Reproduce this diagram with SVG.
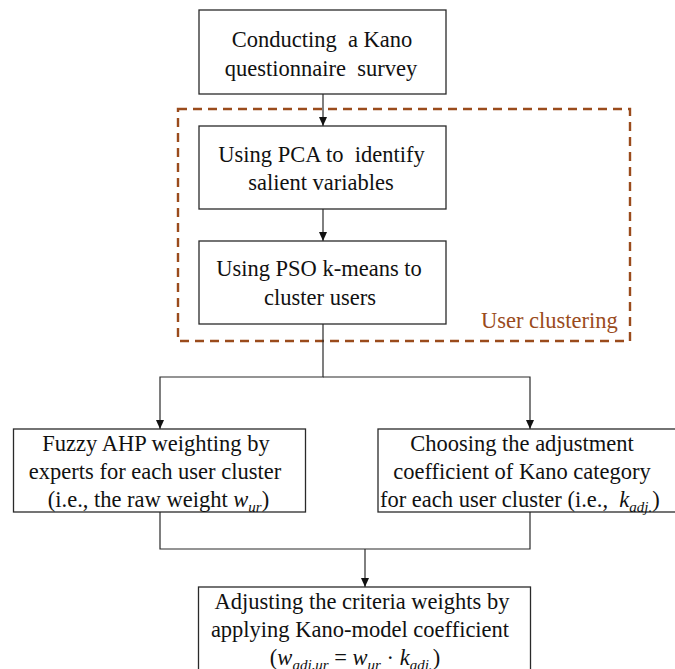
<svg xmlns="http://www.w3.org/2000/svg" width="675" height="669" viewBox="0 0 675 669">
<style>
.box{fill:#fff;stroke:#2a2a2a;stroke-width:1.3}
.t{font-family:"Liberation Serif","Times New Roman",serif;font-size:22.5px;fill:#111}
.c{text-anchor:middle}
.it{font-style:italic}
.sub{font-size:15px;font-style:italic}
.conn{fill:none;stroke:#2a2a2a;stroke-width:1.2}
.grp{fill:none;stroke:#9a4b1c;stroke-width:2.4;stroke-dasharray:9 6}
.lbl{font-family:"Liberation Serif","Times New Roman",serif;font-size:22.5px;fill:#9a4b1c}
</style>
<defs>
<marker id="ah" markerUnits="userSpaceOnUse" markerWidth="10" markerHeight="10" refX="9" refY="5" orient="auto">
<path d="M0,1 L9,5 L0,9 Z" fill="#111"/>
</marker>
</defs>
<rect width="675" height="669" fill="#fff"/>
<g id="user-clustering">
<rect class="grp" x="178" y="109" width="452" height="232"/>
<text class="lbl" x="481" y="328">User clustering</text>
</g>
<g id="connectors">
<line class="conn" x1="323" y1="94" x2="323" y2="126" marker-end="url(#ah)"/>
<line class="conn" x1="323" y1="209" x2="323" y2="241" marker-end="url(#ah)"/>
<polyline class="conn" points="323,324 323,377 160,377 160,429" marker-end="url(#ah)"/>
<polyline class="conn" points="323,377 530,377 530,429" marker-end="url(#ah)"/>
<polyline class="conn" points="160,512 160,549 530,549 530,512"/>
<line class="conn" x1="365" y1="549" x2="365" y2="587" marker-end="url(#ah)"/>
</g>
<g id="survey">
<rect class="box" x="199" y="10" width="247" height="84"/>
<text class="t c" x="322" y="47" xml:space="preserve">Conducting  a Kano</text>
<text class="t c" x="321" y="75.5" xml:space="preserve">questionnaire  survey</text>
</g>
<g id="pca">
<rect class="box" x="199" y="126" width="247" height="83"/>
<text class="t c" x="321.5" y="161.5" xml:space="preserve">Using PCA to  identify</text>
<text class="t c" x="321" y="190">salient variables</text>
</g>
<g id="pso">
<rect class="box" x="199" y="241" width="247" height="83"/>
<text class="t c" x="319" y="275.5">Using PSO k-means to</text>
<text class="t c" x="320" y="305">cluster users</text>
</g>
<g id="fuzzy-ahp">
<rect class="box" x="13.5" y="429" width="292" height="83"/>
<text class="t c" x="156" y="451">Fuzzy AHP weighting by</text>
<text class="t c" x="155" y="479">experts for each user cluster</text>
<text class="t c" x="158.5" y="507">(i.e., the raw weight <tspan class="it">w</tspan><tspan class="sub" dy="5">ur</tspan><tspan dy="-5">)</tspan></text>
</g>
<g id="kano-coef">
<rect class="box" x="378" y="429" width="320" height="83"/>
<text class="t c" x="522" y="451">Choosing the adjustment</text>
<text class="t c" x="522" y="479">coefficient of Kano category</text>
<text class="t" x="380" y="507" xml:space="preserve">for each user cluster (i.e.,  <tspan class="it">k</tspan><tspan class="sub" dy="5">adj.</tspan><tspan dy="-5">)</tspan></text>
</g>
<g id="adjust">
<rect class="box" x="198.5" y="587" width="332" height="110"/>
<text class="t c" x="362" y="608.5">Adjusting the criteria weights by</text>
<text class="t c" x="360" y="637">applying Kano-model coefficient</text>
<text class="t c" x="355" y="665">(<tspan class="it">w</tspan><tspan class="sub" dy="5">adj,ur</tspan><tspan dy="-5"> = </tspan><tspan class="it">w</tspan><tspan class="sub" dy="5">ur</tspan><tspan dy="-5"> · </tspan><tspan class="it">k</tspan><tspan class="sub" dy="5">adj.</tspan><tspan dy="-5">)</tspan></text>
</g>
</svg>
